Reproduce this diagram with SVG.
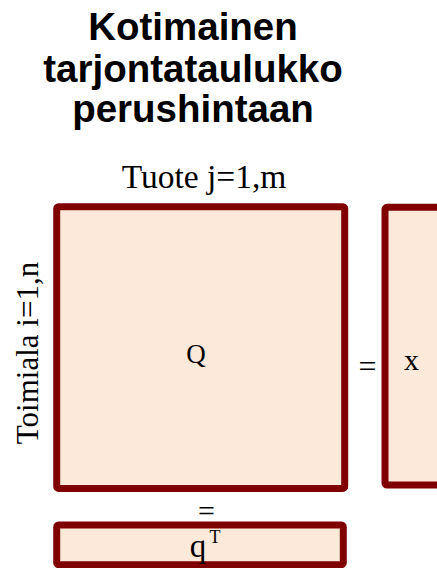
<svg xmlns="http://www.w3.org/2000/svg" width="437" height="568" viewBox="0 0 437 568">
<style>
.box{fill:#fde9d9;stroke:#800000;stroke-width:7}
.title{font-family:"Liberation Sans",Arial,sans-serif;font-weight:bold;font-size:38.5px;fill:#000;text-anchor:middle}
.lbl{font-family:"Liberation Serif","Times New Roman",serif;fill:#000;text-anchor:middle}
</style>
<rect width="437" height="568" fill="#fff"/>
<g id="title">
<text class="title" x="193" y="40">Kotimainen</text>
<text class="title" x="193" y="82">tarjontataulukko</text>
<text class="title" x="193" y="122">perushintaan</text>
</g>
<g id="col-label"><text class="lbl" x="204" y="188" font-size="33.5">Tuote j=1,m</text></g>
<g id="row-label"><text class="lbl" font-size="31" transform="translate(38,353) rotate(-90)">Toimiala i=1,n</text></g>
<g id="Q">
<rect class="box" x="56.7" y="206.7" width="288" height="281.7" rx="2"/>
<text class="lbl" x="196" y="363" font-size="27">Q</text>
</g>
<g id="x">
<rect class="box" x="385" y="207.3" width="70" height="277.7" rx="2"/>
<text class="lbl" x="411.5" y="370" font-size="30">x</text>
</g>
<g id="qT">
<rect class="box" x="56.7" y="525" width="286.6" height="39.7" rx="2"/>
<text class="lbl" x="198" y="557" font-size="33">q</text>
<text class="lbl" x="215" y="543" font-size="18">T</text>
</g>
<g id="connectors">
<text class="lbl" x="367.5" y="377" font-size="32">=</text>
<text class="lbl" x="206.5" y="521" font-size="30">=</text>
</g>
</svg>
